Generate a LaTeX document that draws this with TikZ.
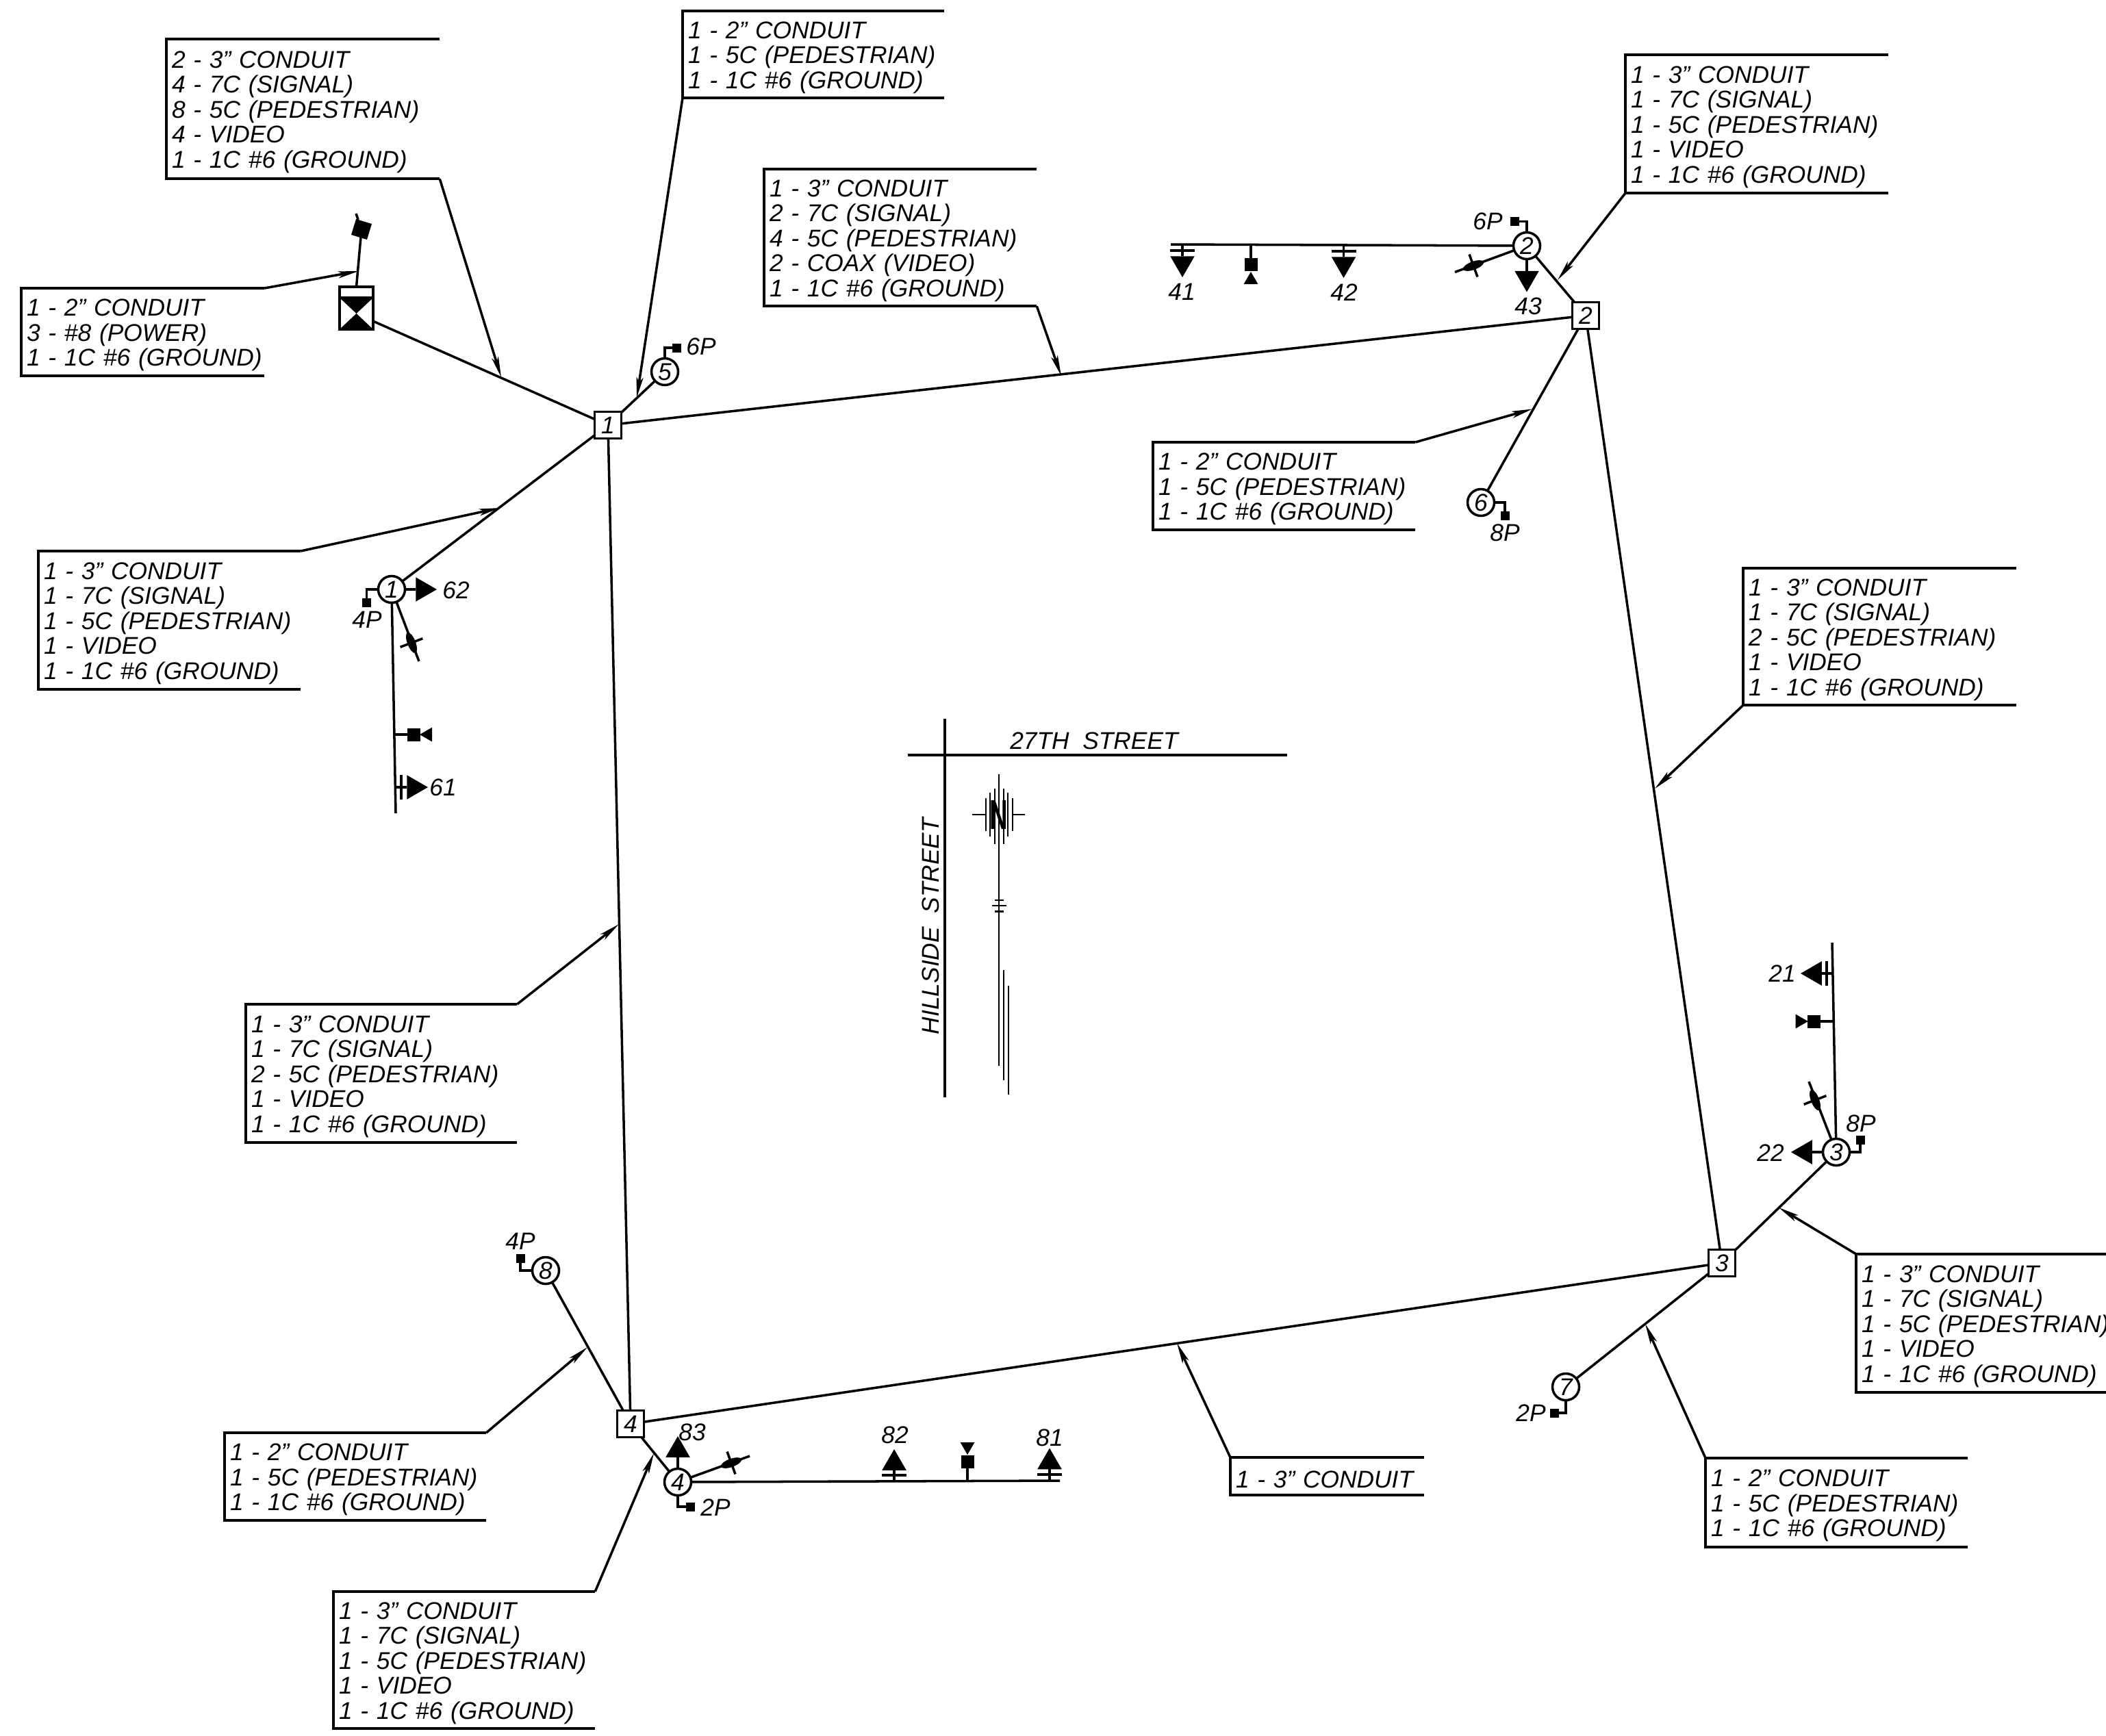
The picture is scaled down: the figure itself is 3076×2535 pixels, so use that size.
\documentclass[tikz,border=0pt]{standalone}
\usepackage{fontspec}
\setmainfont{Liberation Sans}
\usetikzlibrary{shapes.geometric,arrows.meta}
\tikzset{
    every node/.style={font=\itshape\fontsize{10.05}{10.4}\selectfont,inner sep=0pt,outer sep=0pt},
    callbox/.style={anchor=north west,align=left,inner xsep=0.08cm,execute at begin node=\rule{0pt}{9.6pt}},
    leader/.style={-{Stealth[length=0.3cm,width=0.1cm,inset=0.07cm]}},
    handhole/.style={draw,rectangle,minimum size=0.39cm},
    polecir/.style={draw,circle,minimum size=0.39cm},
    btn/.style={fill=black,minimum size=0.13cm},
    pedbox/.style={fill=black,minimum size=0.19cm},
    sighead/.style={regular polygon,regular polygon sides=3,fill=black,minimum size=0.41cm},
    pedtri/.style={regular polygon,regular polygon sides=3,fill=black,minimum size=0.24cm},
    hbar/.style={fill=black,minimum width=0.36cm,minimum height=1pt},
    vbar/.style={fill=black,minimum width=1pt,minimum height=0.36cm},
    lamp/.style={ellipse,fill=black,minimum width=0.32cm,minimum height=0.12cm},
    lamptick/.style={shorten >=-0.115cm,shorten <=-0.115cm},
    arrowline/.style={line width=0.6pt}
}
\begin{document}
\begin{tikzpicture}[x=0.01cm,y=-0.01cm,line width=1pt]
        \useasboundingbox (0,0) rectangle (3076,2535);

        \node[handhole] (sq1) at (888,621) {1};
        \node[handhole] (sq2) at (2316,461) {2};
        \node[handhole] (sq3) at (2515,1845) {3};
        \node[handhole] (sq4) at (921,2080) {4};
        \node[polecir] (cir1) at (572,861) {1};
        \node[polecir] (cir2) at (2230,359) {2};
        \node[polecir] (cir3) at (2682,1683) {3};
        \node[polecir] (cir4) at (990,2165) {4};
        \node[polecir] (cir5) at (971,543) {5};
        \node[polecir] (cir6) at (2163,734) {6};
        \node[polecir] (cir7) at (2287,2026) {7};
        \node[polecir] (cir8) at (797,1856) {8};
        \draw (sq1) -- (sq2);
        \draw (sq2) -- (sq3);
        \draw (sq3) -- (sq4);
        \draw (sq4) -- (sq1);
        \draw (sq1) -- (cir1);
        \draw (sq1) -- (cir5);
        \draw (sq2) -- (cir2);
        \draw (sq2) -- (cir6);
        \draw (sq3) -- (cir3);
        \draw (sq3) -- (cir7);
        \draw (sq4) -- (cir4);
        \draw (sq4) -- (cir8);

        \node[draw,minimum width=0.49cm,minimum height=0.62cm] (cab) at (520.5,450) {};
        \draw (496,435) -- (545,435);
        \fill (496,435) -- (545,435) -- (496,481) -- (545,481) -- cycle;
        \draw (sq1) -- (cab.-38);
        \node[fill=black,minimum size=0.24cm,rotate=-17] (meter) at (528,335) {};
        \coordinate (meterend) at (520,312);
        \draw (cab.north) -- (meter);
        \draw (meter) -- (meterend);

        \node[btn] (btn1) at (535.5,880) {};
        \node[btn] (btn2) at (2212.5,323.5) {};
        \node[btn] (btn3) at (2717,1665) {};
        \node[btn] (btn4) at (1008,2201) {};
        \node[btn] (btn5) at (988.5,508) {};
        \node[btn] (btn6) at (2198,753) {};
        \node[btn] (btn7) at (2270,2064) {};
        \node[btn] (btn8) at (760,1838) {};
        \draw (cir1) -| (btn1);
        \draw (cir2) |- (btn2);
        \draw (cir3) -| (btn3);
        \draw (cir4) |- (btn4);
        \draw (cir5) |- (btn5);
        \draw (cir6) -| (btn6);
        \draw (cir7) |- (btn7);
        \draw (cir8) -| (btn8);
        \node (lbp1) at (536,905) {4P};
        \node (lbp2) at (2173,323.5) {6P};
        \node (lbp3) at (2718,1641) {8P};
        \node (lbp4) at (1045,2202) {2P};
        \node (lbp5) at (1024,506) {6P};
        \node (lbp6) at (2198,778) {8P};
        \node (lbp7) at (2236,2064) {2P};
        \node (lbp8) at (760,1813) {4P};

        \coordinate (mast1) at (578,1188);
        \coordinate (jp1) at (576,1073);
        \coordinate (j61) at (576,1150);
        \draw (cir1) -- (mast1);
        \node[sighead,regular polygon rotate=-90] (hd62) at (617.5,861) {};
        \draw (cir1) -- (hd62);
        \node (lb62) at (666,862) {62};
        \node[sighead,regular polygon rotate=-90] (hd61) at (604.5,1150) {};
        \node[vbar] (bar61) at (586,1150) {};
        \draw (j61) -- (hd61);
        \node (lb61) at (647,1150) {61};
        \node[pedbox] (ped1) at (604.5,1073) {};
        \node[pedtri,regular polygon rotate=90] (pt1) at (625,1073) {};
        \draw (jp1) -- (ped1);
        \coordinate (lend1) at (612,966);
        \draw (cir1) -- (lend1);
        \node[lamp,rotate=-69] (lamp1) at (601,939) {};
        \draw[lamptick] (lamp1.north) -- (lamp1.south);

        \coordinate (arm2) at (1710,357);
        \coordinate (j41) at (1727,357);
        \coordinate (jp2) at (1827,358);
        \coordinate (j42) at (1962.5,358);
        \draw (cir2) -- (arm2);
        \node[sighead,regular polygon rotate=180] (hd41) at (1727,384.5) {};
        \node[hbar] (bar41) at (1727,366) {};
        \draw (j41) -- (hd41);
        \node (lb41) at (1726,426) {41};
        \node[pedbox] (ped2) at (1827,386) {};
        \node[pedtri] (pt2) at (1827,409) {};
        \draw (jp2) -- (ped2);
        \node[sighead,regular polygon rotate=180] (hd42) at (1962.5,385.5) {};
        \node[hbar] (bar42) at (1962.5,367) {};
        \draw (j42) -- (hd42);
        \node (lb42) at (1963,427) {42};
        \node[sighead,regular polygon rotate=180] (hd43) at (2230,406) {};
        \draw (cir2) -- (hd43);
        \node (lb43) at (2232,447.5) {43};
        \coordinate (lend2) at (2125,397.5);
        \draw (cir2) -- (lend2);
        \node[lamp,rotate=20] (lamp2) at (2152,388) {};
        \draw[lamptick] (lamp2.north) -- (lamp2.south);

        \coordinate (mast3) at (2676,1377);
        \coordinate (j21) at (2676,1422);
        \coordinate (jp3) at (2678,1492);
        \draw (cir3) -- (mast3);
        \node[sighead,regular polygon rotate=90] (hd21) at (2650.5,1422) {};
        \node[vbar] (bar21) at (2668,1422) {};
        \draw (j21) -- (hd21);
        \node (lb21) at (2603,1422) {21};
        \node[pedbox] (ped3) at (2649,1492) {};
        \node[pedtri,regular polygon rotate=-90] (pt3) at (2628.7,1492) {};
        \draw (jp3) -- (ped3);
        \node[sighead,regular polygon rotate=90] (hd22) at (2636.5,1683) {};
        \draw (cir3) -- (hd22);
        \node (lb22) at (2586,1684) {22};
        \coordinate (lend3) at (2642,1580);
        \draw (cir3) -- (lend3);
        \node[lamp,rotate=-69] (lamp3) at (2651,1607) {};
        \draw[lamptick] (lamp3.north) -- (lamp3.south);

        \coordinate (arm4) at (1548,2163);
        \coordinate (j82) at (1306,2164);
        \coordinate (jp4) at (1413,2164);
        \coordinate (j81) at (1533,2163);
        \draw (cir4) -- (arm4);
        \node[sighead] (hd83) at (990,2118.5) {};
        \draw (cir4) -- (hd83);
        \node (lb83) at (1011,2092) {83};
        \node[sighead] (hd82) at (1306,2137.5) {};
        \node[hbar] (bar82) at (1306,2155) {};
        \draw (j82) -- (hd82);
        \node (lb82) at (1307,2096) {82};
        \node[pedbox] (ped4) at (1413,2135.5) {};
        \node[pedtri,regular polygon rotate=180] (pt4) at (1413,2113) {};
        \draw (jp4) -- (ped4);
        \node[sighead] (hd81) at (1533,2136) {};
        \node[hbar] (bar81) at (1533,2154) {};
        \draw (j81) -- (hd81);
        \node (lb81) at (1533,2100) {81};
        \coordinate (lend4) at (1095,2127);
        \draw (cir4) -- (lend4);
        \node[lamp,rotate=20] (lamp4) at (1068,2137) {};
        \draw[lamptick] (lamp4.north) -- (lamp4.south);

        \node[callbox,text width=3.83cm,minimum height=2.04cm] (box1) at (243,57) {2 - 3" CONDUIT\\4 - 7C (SIGNAL)\\8 - 5C (PEDESTRIAN)\\4 - VIDEO\\1 - 1C \#6 (GROUND)};
        \coordinate (tip1) at (732,551);
        \draw (box1.north east) -- (box1.north west) |- (box1.south east);
        \draw[leader] (box1.south east) -- (tip1);
        \node[callbox,text width=3.66cm,minimum height=1.27cm] (box2) at (997,16) {1 - 2" CONDUIT\\1 - 5C (PEDESTRIAN)\\1 - 1C \#6 (GROUND)};
        \coordinate (tip2) at (930,581);
        \draw (box2.north east) -- (box2.north west) |- (box2.south east);
        \draw[leader] (box2.south west) -- (tip2);
        \node[callbox,text width=3.82cm,minimum height=2cm] (box3) at (1116,247) {1 - 3" CONDUIT\\2 - 7C (SIGNAL)\\4 - 5C (PEDESTRIAN)\\2 - COAX (VIDEO)\\1 - 1C \#6 (GROUND)};
        \coordinate (tip3) at (1550,549);
        \draw (box3.north east) -- (box3.north west) |- (box3.south east);
        \draw[leader] (box3.south east) -- (tip3);
        \node[callbox,text width=3.68cm,minimum height=2.02cm] (box4) at (2374,80) {1 - 3" CONDUIT\\1 - 7C (SIGNAL)\\1 - 5C (PEDESTRIAN)\\1 - VIDEO\\1 - 1C \#6 (GROUND)};
        \coordinate (tip4) at (2275,409);
        \draw (box4.north east) -- (box4.north west) |- (box4.south east);
        \draw[leader] (box4.south west) -- (tip4);
        \node[callbox,text width=3.39cm,minimum height=1.28cm] (box5) at (31,421) {1 - 2" CONDUIT\\3 - \#8 (POWER)\\\mbox{1 - 1C \#6 (GROUND)}};
        \coordinate (tip5) at (524,396);
        \draw (box5.north east) -- (box5.north west) |- (box5.south east);
        \draw[leader] (box5.north east) -- (tip5);
        \node[callbox,text width=3.67cm,minimum height=2.02cm] (box6) at (56,805) {1 - 3" CONDUIT\\1 - 7C (SIGNAL)\\1 - 5C (PEDESTRIAN)\\1 - VIDEO\\1 - 1C \#6 (GROUND)};
        \coordinate (tip6) at (730,742);
        \draw (box6.north east) -- (box6.north west) |- (box6.south east);
        \draw[leader] (box6.north east) -- (tip6);
        \node[callbox,text width=3.67cm,minimum height=1.28cm] (box7) at (1684,646) {1 - 2" CONDUIT\\1 - 5C (PEDESTRIAN)\\1 - 1C \#6 (GROUND)};
        \coordinate (tip7) at (2238,597.5);
        \draw (box7.north east) -- (box7.north west) |- (box7.south east);
        \draw[leader] (box7.north east) -- (tip7);
        \node[callbox,text width=3.83cm,minimum height=2cm] (box8) at (2546,830) {1 - 3" CONDUIT\\1 - 7C (SIGNAL)\\2 - 5C (PEDESTRIAN)\\1 - VIDEO\\1 - 1C \#6 (GROUND)};
        \coordinate (tip8) at (2417,1152);
        \draw (box8.north east) -- (box8.north west) |- (box8.south east);
        \draw[leader] (box8.south west) -- (tip8);
        \node[callbox,text width=3.75cm,minimum height=2.02cm] (box9) at (2711,1832) {1 - 3" CONDUIT\\1 - 7C (SIGNAL)\\1 - 5C (PEDESTRIAN)\\1 - VIDEO\\1 - 1C \#6 (GROUND)};
        \coordinate (tip9) at (2598,1764);
        \draw (box9.north east) -- (box9.north west) |- (box9.south east);
        \draw[leader] (box9.north west) -- (tip9);
        \node[callbox,text width=2.67cm,minimum height=0.55cm] (box10) at (1797,2129) {1 - 3" CONDUIT};
        \coordinate (tip10) at (1719,1962);
        \draw (box10.north east) -- (box10.north west) |- (box10.south east);
        \draw[leader] (box10.north west) -- (tip10);
        \node[callbox,text width=3.67cm,minimum height=1.3cm] (box11) at (2491,2130) {1 - 2" CONDUIT\\1 - 5C (PEDESTRIAN)\\1 - 1C \#6 (GROUND)};
        \coordinate (tip11) at (2403,1934);
        \draw (box11.north east) -- (box11.north west) |- (box11.south east);
        \draw[leader] (box11.north west) -- (tip11);
        \node[callbox,text width=3.8cm,minimum height=2.02cm] (box12) at (359,1467) {1 - 3" CONDUIT\\1 - 7C (SIGNAL)\\2 - 5C (PEDESTRIAN)\\1 - VIDEO\\1 - 1C \#6 (GROUND)};
        \coordinate (tip12) at (904,1350);
        \draw (box12.north east) -- (box12.north west) |- (box12.south east);
        \draw[leader] (box12.north east) -- (tip12);
        \node[callbox,text width=3.66cm,minimum height=1.28cm] (box13) at (328,2093) {1 - 2" CONDUIT\\1 - 5C (PEDESTRIAN)\\1 - 1C \#6 (GROUND)};
        \coordinate (tip13) at (858,1968);
        \draw (box13.north east) -- (box13.north west) |- (box13.south east);
        \draw[leader] (box13.north east) -- (tip13);
        \node[callbox,text width=3.66cm,minimum height=2cm] (box14) at (487,2325) {1 - 3" CONDUIT\\1 - 7C (SIGNAL)\\1 - 5C (PEDESTRIAN)\\1 - VIDEO\\1 - 1C \#6 (GROUND)};
        \coordinate (tip14) at (955,2123);
        \draw (box14.north east) -- (box14.north west) |- (box14.south east);
        \draw[leader] (box14.north east) -- (tip14);

        \draw (1380,1050) -- (1380,1603);
        \draw (1326,1103) -- (1880,1103);
        \node (street1) at (1598,1082) {27TH\ \ STREET};
        \node[rotate=90] (street2) at (1359,1353) {HILLSIDE\ \ STREET};

        \node[font=\bfseries\fontsize{17.4}{18}\selectfont,xscale=0.6] (north) at (1459,1190) {N};
        \draw[arrowline] (1459,1131) -- (1459,1557);
        \draw[arrowline] (1466,1417) -- (1466,1578);
        \draw[arrowline] (1473,1439.5) -- (1473,1599);
        \draw[arrowline] (1420,1190) -- (1438.5,1190);
        \draw[arrowline] (1480,1190) -- (1497,1190);
        \draw[arrowline] (1440,1166) -- (1440,1214);
        \draw[arrowline] (1446,1158) -- (1446,1222);
        \draw[arrowline] (1453,1152) -- (1453,1233);
        \draw[arrowline] (1466,1152) -- (1466,1233);
        \draw[arrowline] (1472,1158) -- (1472,1222);
        \draw[arrowline] (1479,1166) -- (1479,1214);
        \draw[arrowline] (1448.5,1323) -- (1470,1323);
        \draw[arrowline] (1453,1315) -- (1466,1315);
        \draw[arrowline] (1453,1331.5) -- (1466,1331.5);
    \end{tikzpicture}
\end{document}
